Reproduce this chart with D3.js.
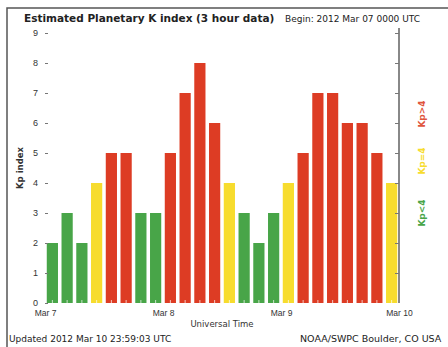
<!DOCTYPE html>
<html>
<head>
<meta charset="utf-8">
<script src="https://cdn.jsdelivr.net/npm/d3@7"></script>
<style>
  body { margin: 0; background: #fff; }
  svg { display: block; font-family: "DejaVu Sans", sans-serif; }
</style>
</head>
<body>
<svg id="chart"></svg>
<script>
// Kp values, one per 3-hour interval, 3 days
const kpValues = [2, 3, 2, 4, 5, 5, 3, 3, 5, 7, 8, 6, 4, 3, 2, 3, 4, 5, 7, 7, 6, 6, 5, 4]
const dayLabels = ['Mar 7', 'Mar 8', 'Mar 9', 'Mar 10']
const yTicks = [0, 1, 2, 3, 4, 5, 6, 7, 8, 9]
const legendLabels = ['Kp<4', 'Kp=4', 'Kp>4']

const width = 448, height = 347
const margin = {top: 33, right: 49, bottom: 44, left: 45}
const svg = d3.select('#chart').attr('width', width).attr('height', height)

const colorFor = v => v < 4 ? '#48a548' : v === 4 ? '#f7dc2e' : '#dd3c24'

const x = d3.scaleBand()
  .domain(d3.range(kpValues.length))
  .range([margin.left, width - margin.right])
  .paddingInner(0.24)
  .paddingOuter(0.12)
const xDay = d3.scaleLinear()
  .domain([0, dayLabels.length - 1])
  .range([margin.left, width - margin.right])
const y = d3.scaleLinear()
  .domain([0, 9])
  .range([height - margin.bottom, margin.top])

// outer frame
svg.append('path')
  .attr('d', `M7,${height} V8 H${width}`)
  .attr('fill', 'none')
  .attr('stroke', '#555')
  .attr('stroke-width', 1.5)

// bars
svg.selectAll('.bar')
  .data(kpValues)
  .enter()
  .append('rect')
  .attr('class', 'bar')
  .attr('x', (d, i) => x(i))
  .attr('y', d => y(d))
  .attr('width', x.bandwidth())
  .attr('height', d => y(0) - y(d))
  .attr('fill', d => colorFor(d))

// small 3-hour marks at the foot of each bar
svg.selectAll('.mark')
  .data(kpValues)
  .enter()
  .append('line')
  .attr('x1', (d, i) => x(i) + x.bandwidth() / 2)
  .attr('x2', (d, i) => x(i) + x.bandwidth() / 2)
  .attr('y1', y(0))
  .attr('y2', y(0) - 3)
  .attr('stroke', '#fff')
  .attr('stroke-opacity', 0.7)

// left axis: labels and little ticks only
const yAxis = svg.append('g')
  .attr('transform', `translate(${margin.left},0)`)
  .call(d3.axisLeft(y).tickValues(yTicks).tickFormat(d3.format('d')).tickSize(-3).tickPadding(7))
yAxis.select('.domain').remove()
yAxis.selectAll('.tick line').attr('stroke', '#777')
yAxis.selectAll('text').attr('font-size', 9).attr('fill', '#333')

// right axis with line
const yAxisR = svg.append('g')
  .attr('transform', `translate(${width - margin.right},0)`)
  .call(d3.axisRight(y).tickValues(yTicks.slice(1)).tickFormat('').tickSize(-4).tickSizeOuter(0))
yAxisR.select('.domain').attr('stroke', '#888').attr('stroke-width', 2)
  .attr('d', `M0,${margin.top - 5}V${y(0)}`)
yAxisR.selectAll('.tick line').attr('stroke', '#777')

// bottom axis: day labels
const xAxis = svg.append('g')
  .attr('transform', `translate(0,${y(0)})`)
  .call(d3.axisBottom(xDay).tickValues(d3.range(dayLabels.length)).tickFormat(i => dayLabels[i]).tickSize(0).tickPadding(7))
xAxis.select('.domain').remove()
xAxis.selectAll('text').attr('font-size', 8.5).attr('fill', '#333')

// axis titles
svg.append('text')
  .attr('x', (margin.left + width - margin.right) / 2)
  .attr('y', 327)
  .attr('text-anchor', 'middle')
  .attr('font-size', 8.5)
  .attr('fill', '#333')
  .text('Universal Time')

svg.append('text')
  .attr('transform', 'translate(23,168) rotate(-90)')
  .attr('text-anchor', 'middle')
  .attr('font-size', 8.5)
  .attr('font-weight', 'bold')
  .attr('fill', '#333')
  .text('Kp index')

// title
svg.append('text')
  .attr('x', 24)
  .attr('y', 22)
  .attr('font-size', 10.5)
  .attr('font-weight', 'bold')
  .attr('fill', '#222')
  .text('Estimated Planetary K index (3 hour data)')
svg.append('text')
  .attr('x', 285)
  .attr('y', 22)
  .attr('font-size', 9)
  .attr('fill', '#222')
  .text('Begin: 2012 Mar 07 0000 UTC')

// legend on the right, rotated
const legendY = [213, 161, 114]
svg.selectAll('.legend')
  .data(legendLabels)
  .enter()
  .append('text')
  .attr('transform', (d, i) => `translate(425,${legendY[i]}) rotate(-90)`)
  .attr('text-anchor', 'middle')
  .attr('font-size', 9)
  .attr('font-weight', 'bold')
  .attr('fill', (d, i) => ['#48a548', '#f7dc2e', '#e0553c'][i])
  .text(d => d)

// footer
svg.append('text')
  .attr('x', 9)
  .attr('y', 342)
  .attr('font-size', 9)
  .attr('fill', '#222')
  .text('Updated 2012 Mar 10 23:59:03 UTC')
svg.append('text')
  .attr('x', 300)
  .attr('y', 342)
  .attr('font-size', 9.5)
  .attr('fill', '#222')
  .text('NOAA/SWPC Boulder, CO USA')
</script>
</body>
</html>
